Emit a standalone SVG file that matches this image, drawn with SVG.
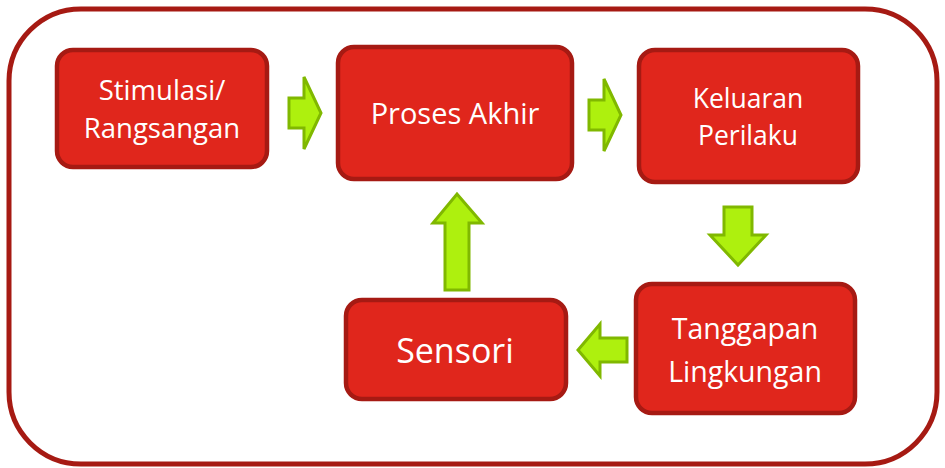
<svg xmlns="http://www.w3.org/2000/svg" width="945" height="468" viewBox="0 0 945 468">
<style>
.box{fill:#E0261C;stroke:#A61A13;stroke-width:4.5}
.t{fill:#FFFFFF;font-family:"Open Sans","Noto Sans",sans-serif;text-anchor:middle}
.arr{fill:#AEF00E;stroke:#80B800;stroke-width:3;stroke-linejoin:miter}
</style>
<rect width="945" height="468" fill="#FFFFFF"/>
<rect x="9" y="9" width="928" height="455" rx="72" ry="72" fill="none" stroke="#A61A13" stroke-width="5"/>
<g id="stimulasi">
<rect class="box" x="57" y="50" width="210" height="117" rx="16"/>
<text class="t" x="162" y="100" font-size="27.5">Stimulasi/</text>
<text class="t" x="162" y="138" font-size="27.5">Rangsangan</text>
</g>
<g id="proses">
<rect class="box" x="338" y="47" width="234" height="132" rx="16"/>
<text class="t" x="455" y="124" font-size="29">Proses Akhir</text>
</g>
<g id="keluaran">
<rect class="box" x="639" y="50" width="219" height="132" rx="16"/>
<text class="t" x="748" y="108" font-size="26.5">Keluaran</text>
<text class="t" x="748" y="145" font-size="26.5">Perilaku</text>
</g>
<g id="tanggapan">
<rect class="box" x="636" y="284" width="219" height="129" rx="16"/>
<text class="t" x="745" y="339" font-size="28.5">Tanggapan</text>
<text class="t" x="745" y="382" font-size="28.5">Lingkungan</text>
</g>
<g id="sensori">
<rect class="box" x="346" y="300" width="220" height="99" rx="16"/>
<text class="t" x="455" y="363" font-size="34">Sensori</text>
</g>
<g id="connectors">
<polygon class="arr" points="289,98 304,98 304,77 321,113 304,149 304,128 289,128"/>
<polygon class="arr" points="589,100 604,100 604,79 621,115 604,151 604,130 589,130"/>
<polygon class="arr" points="724,207 752,207 752,235 766,235 738,265 710,235 724,235"/>
<polygon class="arr" points="627,338 600,338 600,324 578,350 600,376 600,362 627,362"/>
<polygon class="arr" points="445,290 469,290 469,223 482,223 457,194 433,223 445,223"/>
</g>
</svg>
